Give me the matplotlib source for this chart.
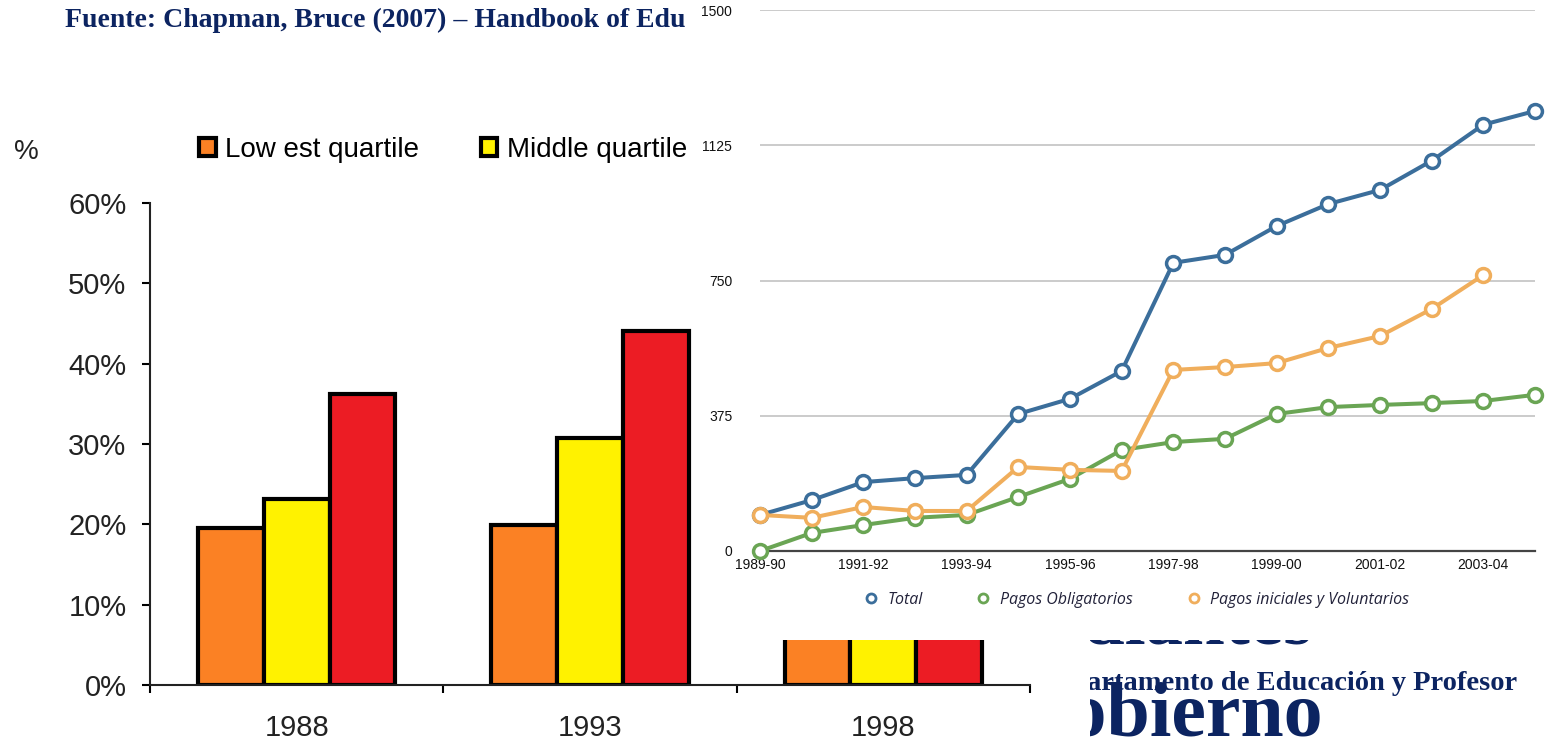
import numpy as np
import matplotlib
import matplotlib.pyplot as plt
from matplotlib.patches import Patch, Rectangle
from matplotlib.lines import Line2D

matplotlib.use('agg')

# --- data: left bar chart (share by income quartile) ---
bar_years = ['1988', '1993', '1998']
bar_series = ['Low est quartile', 'Middle quartile', 'Highest quartile']
lowest = [0.195, 0.199, 0.215]
middle = [0.232, 0.308, 0.330]
highest = [0.362, 0.441, 0.480]
bar_colors = ['#fb8124', '#fff200', '#ec1c24']

# --- data: right line chart ---
periods = ['1989-90', '1990-91', '1991-92', '1992-93', '1993-94', '1994-95', '1995-96',
           '1996-97', '1997-98', '1998-99', '1999-00', '2000-01', '2001-02', '2002-03',
           '2003-04', '2004-05']
total = [100, 141, 191, 202, 211, 380, 422, 499, 799, 821, 901, 962, 1001, 1082, 1182, 1220]
obligatorios = [0, 50, 72, 92, 100, 150, 200, 280, 302, 311, 380, 399, 405, 410, 416, 433]
voluntarios = [100, 92, 122, 111, 111, 233, 225, 222, 502, 510, 521, 563, 596, 671, 765, np.nan]
line_names = ['Total', 'Pagos Obligatorios', 'Pagos iniciales y Voluntarios']
line_colors = ['#3b6e9b', '#6aa554', '#f0ae5c']
y_ticks = [0, 375, 750, 1125, 1500]

NAVY = '#0c2461'
W, H = 1549, 749


def fx(x):
    return x / W


def fy(y):
    return 1 - y / H


fig = plt.figure(figsize=(W / 100, H / 100), dpi=100)
fig.patch.set_facecolor('white')

# slide text underneath the pasted charts (only the visible part is written)
serif = 'Liberation Serif'
fig.text(fx(65), fy(20), 'Fuente: Chapman, Bruce (2007) – Handbook of Edu',
         fontsize=20, fontweight='bold', family=serif, color=NAVY, va='center', zorder=1.5)
fig.text(fx(1312), fy(643), 'diantes', fontsize=54, fontweight='bold', family=serif,
         color=NAVY, ha='right', va='baseline', zorder=0.5)
fig.text(fx(1517), fy(684), 'Departamento de Educación y Profesor', fontsize=20.5,
         fontweight='bold', family=serif, color=NAVY, ha='right', va='center', zorder=0.6)
fig.text(fx(1323), fy(735), 'Gobierno', fontsize=56, fontweight='bold', family=serif,
         color=NAVY, ha='right', va='baseline', zorder=0.5)

# white background of the bar chart picture
fig.add_artist(Rectangle((0, 0), fx(1090), fy(60), transform=fig.transFigure,
                         facecolor='white', edgecolor='none', zorder=1))

# --- bar chart ---
sans = 'Liberation Sans'
ax = fig.add_axes([fx(150), fy(685), (1030 - 150) / W, (685 - 203) / H], zorder=2)
ax.patch.set_alpha(0)
x = np.arange(len(bar_years))
bw = 0.224
for i, (vals, col) in enumerate(zip([lowest, middle, highest], bar_colors)):
    ax.bar(x + (i - 1) * bw, vals, bw, color=col, edgecolor='black', linewidth=3,
           label=bar_series[i], zorder=2)

ax.set_xlim(-0.5, 2.5)
ax.set_ylim(0, 0.6)
ax.set_yticks(np.arange(0, 0.61, 0.1))
ax.set_yticklabels([f'{int(round(v * 100))}%' for v in np.arange(0, 0.61, 0.1)],
                   fontsize=21, family=sans, color='#222222')
ax.set_xticks([-0.5, 0.5, 1.5, 2.5])
ax.set_xticklabels([])
ax.set_xticks(x, minor=True)
ax.set_xticklabels(bar_years, minor=True, fontsize=21, family=sans, color='#222222')
ax.tick_params(axis='y', length=6, width=1.5, pad=11)
ax.tick_params(axis='x', which='major', length=6, width=1.5)
ax.tick_params(axis='x', which='minor', length=0, pad=21)
for s in ['top', 'right']:
    ax.spines[s].set_visible(False)
for s in ['left', 'bottom']:
    ax.spines[s].set_linewidth(1.5)
    ax.spines[s].set_color('#222222')

handles = [Patch(facecolor=c, edgecolor='black', linewidth=3) for c in bar_colors]
ax.legend(handles[:2], bar_series[:2], loc='center left', bbox_to_anchor=(fx(174), fy(150)),
          bbox_transform=fig.transFigure, ncol=2, frameon=False,
          prop={'family': sans, 'size': 20}, handlelength=0.6, handleheight=0.6,
          handletextpad=0.35, columnspacing=2.2)
fig.text(fx(14), fy(152), '%', fontsize=20, family=sans, color='#222222', va='center')

# white background of the pasted line chart
fig.add_artist(Rectangle((fx(692), fy(640)), 1 - fx(692), 1 - fy(640), transform=fig.transFigure,
                         facecolor='white', edgecolor='none', zorder=3))

# --- line chart ---
lx = fig.add_axes([fx(760), fy(551), (1535 - 760) / W, (551 - 10) / H], zorder=4)
lx.patch.set_alpha(0)
for vals, col, name in zip([total, obligatorios, voluntarios], line_colors, line_names):
    lx.plot(np.arange(len(periods)), vals, color=col, lw=2.9, marker='o', ms=10, mew=2.5,
            mfc='white', mec=col, solid_joinstyle='round', clip_on=False, label=name, zorder=3)

lx.set_xlim(0, len(periods) - 1)
lx.set_ylim(0, 1500)
lx.set_yticks(y_ticks)
lx.set_yticklabels([str(v) for v in y_ticks], fontsize=10, family=sans, color='#111111')
lx.set_xticks(np.arange(0, len(periods), 2))
lx.set_xticklabels(periods[::2], fontsize=10, family=sans, color='#111111')
lx.tick_params(axis='y', length=0, pad=20)
lx.tick_params(axis='x', length=0, pad=5)
lx.grid(axis='y', color='#bdbdbd', lw=1.1)
lx.set_axisbelow(True)
for s in ['top', 'right', 'left']:
    lx.spines[s].set_visible(False)
lx.spines['bottom'].set_color('#444444')
lx.spines['bottom'].set_linewidth(1.6)
lx.spines['bottom'].set_zorder(2)

lhandles = [Line2D([], [], ls='none', marker='o', ms=6.5, mew=2, mfc='white', mec=c)
            for c in line_colors]
lx.legend(lhandles, line_names, loc='center', bbox_to_anchor=(fx(1136), fy(600)),
          bbox_transform=fig.transFigure, ncol=3, frameon=False,
          prop={'family': 'Open Sans', 'style': 'italic', 'size': 11.5},
          labelcolor='#22223a', handlelength=1.0, handletextpad=0.55, columnspacing=3.3)

fig.savefig('out.png', dpi=100, facecolor='white')
